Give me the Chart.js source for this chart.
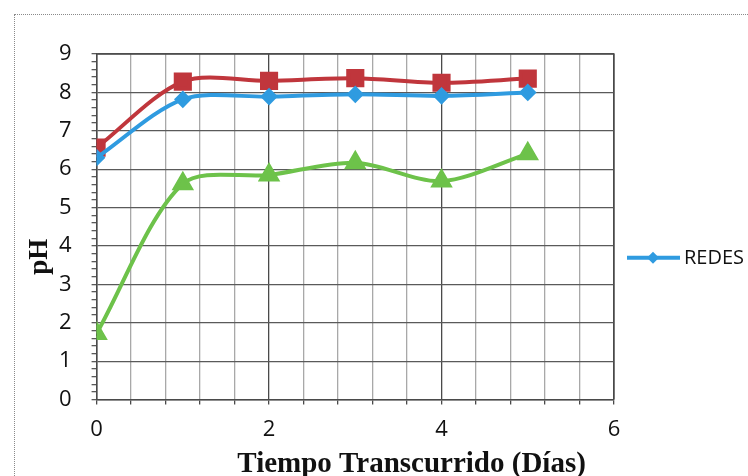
<!DOCTYPE html>
<html>
<head>
<meta charset="utf-8">
<script src="https://cdn.jsdelivr.net/npm/chart.js@4/dist/chart.umd.min.js"></script>
<style>
  html, body { margin: 0; padding: 0; background: #fff; overflow: hidden; }
  #wrap { position: relative; width: 748px; height: 476px; }
  #frame { position: absolute; left: 14px; top: 14px; width: 900px; height: 700px;
           border: 1px dotted #8a8a8a; pointer-events: none; }
  canvas { position: absolute; left: 0; top: 0; }
</style>
</head>
<body>
<div id="wrap">
  <div id="frame"></div>
  <canvas id="phChart" width="748" height="476"></canvas>
</div>
<script>
// dias de muestreo y pH medido
const dias = [0, 1, 2, 3, 4, 5];
const phRedes = [6.30, 7.82, 7.89, 7.95, 7.91, 8.00];
const phRojo = [6.56, 8.28, 8.30, 8.37, 8.25, 8.36];
const phVerde = [1.72, 5.62, 5.85, 6.17, 5.69, 6.40];
const xTicks = [0, 2, 4, 6];
const yTicks = [0, 1, 2, 3, 4, 5, 6, 7, 8, 9];
const tituloX = "Tiempo Transcurrido (Días)";
const tituloY = "pH";

const AZUL = "#2f9be0";
const ROJO = "#c0363c";
const VERDE = "#6dc24a";

function puntos(ys) {
  return dias.map((d, i) => ({ x: d, y: ys[i] }));
}

function esMultiplo(v, m) {
  return Math.abs(v / m - Math.round(v / m)) < 1e-6;
}

// leyenda a la derecha: solo la serie REDES, linea con rombo
const leyenda = {
  id: "leyendaRedes",
  afterDraw(ch) {
    const a = ch.chartArea;
    const c = ch.ctx;
    const x0 = a.right + 13;
    const y = (a.top + a.bottom) / 2 + 31;
    c.save();
    c.strokeStyle = AZUL;
    c.lineWidth = 4;
    c.beginPath();
    c.moveTo(x0, y);
    c.lineTo(x0 + 53, y);
    c.stroke();
    c.fillStyle = AZUL;
    c.beginPath();
    c.moveTo(x0 + 26, y - 6);
    c.lineTo(x0 + 32, y);
    c.lineTo(x0 + 26, y + 6);
    c.lineTo(x0 + 20, y);
    c.closePath();
    c.fill();
    c.fillStyle = "#111";
    c.font = "20px 'Open Sans'";
    c.textBaseline = "middle";
    c.fillText(ch.data.datasets[0].label, x0 + 57, y);
    c.restore();
  }
};

// titulos de ejes, algo desplazados del centro del area
const titulos = {
  id: "titulosEjes",
  afterDraw(ch) {
    const a = ch.chartArea;
    const c = ch.ctx;
    c.save();
    c.fillStyle = "#111";
    c.textAlign = "center";
    c.font = "bold 29px 'Liberation Serif'";
    c.textBaseline = "alphabetic";
    c.fillText(tituloX, a.left + 315, a.bottom + 72);
    c.font = "bold 27px 'Liberation Serif'";
    c.textBaseline = "middle";
    c.translate(40, (a.top + a.bottom) / 2 + 30);
    c.rotate(-Math.PI / 2);
    c.fillText(tituloY, 0, 0);
    c.restore();
  }
};

const bordeDerecho = {
  id: "bordeDerecho",
  afterDraw(ch) {
    const a = ch.chartArea;
    const c = ch.ctx;
    c.save();
    c.strokeStyle = "#4a4a4a";
    c.lineWidth = 1.3;
    c.beginPath();
    c.moveTo(a.left, a.top);
    c.lineTo(a.right, a.top);
    c.lineTo(a.right, a.bottom);
    c.stroke();
    c.restore();
  }
};

const ctx = document.getElementById("phChart");
const chart = new Chart(ctx, {
  type: "scatter",
  data: {
    datasets: [
      {
        label: "REDES",
        data: puntos(phRedes),
        borderColor: AZUL,
        backgroundColor: AZUL,
        pointStyle: "rectRot",
        pointRadius: 6,
        showLine: true,
        borderWidth: 4,
        tension: 0.3
      },
      {
        label: "serie2",
        data: puntos(phRojo),
        borderColor: ROJO,
        backgroundColor: ROJO,
        pointStyle: "rect",
        pointRadius: 10,
        showLine: true,
        borderWidth: 4,
        tension: 0.3
      },
      {
        label: "serie3",
        data: puntos(phVerde),
        borderColor: VERDE,
        backgroundColor: VERDE,
        pointStyle: "triangle",
        pointRadius: 9,
        showLine: true,
        borderWidth: 4,
        tension: 0.3
      }
    ]
  },
  options: {
    responsive: false,
    animation: false,
    layout: { padding: { top: 54, right: 134, bottom: 21, left: 39 } },
    plugins: {
      tooltip: { enabled: false },
      legend: { display: false }
    },
    scales: {
      x: {
        type: "linear",
        min: 0,
        max: 6,
        afterBuildTicks: (s) => {
          s.ticks = [];
          for (let k = 0; k <= 15; k++) s.ticks.push({ value: Math.round(k * 4) / 10 });
        },
        ticks: {
          color: "#111",
          font: { family: "'Open Sans'", size: 22 },
          padding: 12,
          maxRotation: 0,
          autoSkip: false,
          callback: (v) => xTicks.includes(Math.round(v * 10) / 10) ? String(Math.round(v)) : ""
        },
        grid: {
          color: (c) => esMultiplo(c.tick.value, 2) ? "#4a4a4a" : "#a8a8a8",
          tickColor: "#4a4a4a",
          tickLength: 5,
          lineWidth: 1.3
        },
        border: { color: "#4a4a4a", width: 1.5 }
      },
      y: {
        min: 0,
        max: 9,
        afterBuildTicks: (s) => {
          s.ticks = [];
          for (let k = 0; k <= 45; k++) s.ticks.push({ value: Math.round(k * 2) / 10 });
        },
        ticks: {
          color: "#111",
          font: { family: "'Open Sans'", size: 22 },
          padding: 20,
          autoSkip: false,
          callback: (v) => esMultiplo(v, 1) && yTicks.includes(Math.round(v)) ? String(Math.round(v)) : ""
        },
        grid: {
          color: (c) => esMultiplo(c.tick.value, 1) ? "#5a5a5a" : "rgba(0,0,0,0)",
          tickColor: "#5a5a5a",
          tickLength: 5,
          lineWidth: 1.3
        },
        border: { color: "#4a4a4a", width: 1.5 }
      }
    }
  },
  plugins: [bordeDerecho, titulos, leyenda]
});
</script>
</body>
</html>
